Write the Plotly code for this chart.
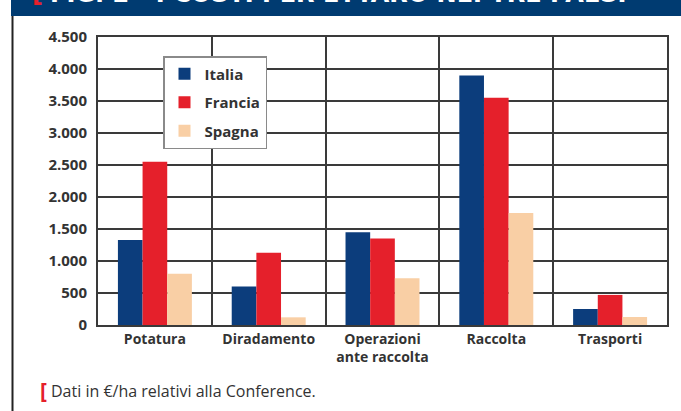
import plotly.graph_objects as go

categories = ["Potatura", "Diradamento", "Operazioni<br>ante raccolta", "Raccolta", "Trasporti"]
italia = [1330, 600, 1450, 3900, 250]
francia = [2550, 1130, 1350, 3550, 470]
spagna = [800, 120, 730, 1750, 125]
series_names = ["Italia", "Francia", "Spagna"]
colors = ["#0c3d7c", "#e5202b", "#f9cfa5"]

W, H = 681, 411
L, R, T, B = 98, 14, 37, 86
pw, ph = W - L - R, H - T - B

def px(x):
    return (x - L) / pw

def py(y):
    return (H - B - y) / ph

fig = go.Figure()
for i, (name, vals) in enumerate(zip(series_names, [italia, francia, spagna])):
    fig.add_trace(go.Bar(
        x=categories, y=vals, name=name, marker_color=colors[i],
        marker_line_width=0, legendgroup=name,
    ))

font_main = "Open Sans, DejaVu Sans, sans-serif"

fig.update_layout(
    width=W, height=H,
    margin=dict(l=L, r=R, t=T, b=B, pad=0),
    paper_bgcolor="white", plot_bgcolor="white",
    barmode="group", bargap=0.35, bargroupgap=0,
    separators=",.",
    showlegend=True,
    legend=dict(
        x=px(163), y=py(56), xanchor="left", yanchor="top",
        bgcolor="white", bordercolor="#8a8a8a", borderwidth=1.5,
        font=dict(family=font_main, size=15, color="#333333", weight="bold"),
        tracegroupgap=6, traceorder="grouped",
    ),
    xaxis=dict(
        type="category", tickson="boundaries", showgrid=True,
        gridcolor="#3a3a3a", gridwidth=1.5, ticks="",
        showline=True, mirror=True, linecolor="#3a3a3a", linewidth=2,
        tickfont=dict(family=font_main, size=14, color="#333333", weight="bold"),
    ),
    yaxis=dict(
        range=[0, 4500], dtick=500, tickformat=",d",
        showgrid=True, gridcolor="#3a3a3a", gridwidth=1.5,
        showline=True, mirror=True, linecolor="#3a3a3a", linewidth=2,
        ticks="", ticklen=0, zeroline=False, ticklabelstandoff=6,
        tickfont=dict(family=font_main, size=15, color="#333333", weight="bold"),
    ),
    shapes=[
        dict(type="rect", xref="paper", yref="paper", x0=px(11), x1=px(W + 2),
             y0=py(16), y1=py(-2), fillcolor="#003b71", line_width=0, layer="above"),
        dict(type="line", xref="paper", yref="paper", x0=px(12.5), x1=px(12.5),
             y0=py(16), y1=py(H + 2), line=dict(color="#222222", width=2)),
    ],
    annotations=[
        dict(xref="paper", yref="paper", x=px(30), y=py(10), xanchor="left", yanchor="bottom",
             text="[", showarrow=False,
             font=dict(family="DejaVu Sans", size=24, color="#e5202b", weight="bold")),
        dict(xref="paper", yref="paper", x=px(48), y=py(10), xanchor="left", yanchor="bottom",
             text="FIG. 2 - I COSTI PER ETTARO NEI TRE PAESI", showarrow=False,
             font=dict(family="DejaVu Sans", size=24, color="white", weight="bold")),
        dict(xref="paper", yref="paper", x=px(38), y=py(390), xanchor="left", yanchor="middle",
             text="[", showarrow=False,
             font=dict(family=font_main, size=21, color="#e5202b", weight="bold")),
        dict(xref="paper", yref="paper", x=px(49), y=py(391), xanchor="left", yanchor="middle",
             text="Dati in €/ha relativi alla Conference.", showarrow=False,
             font=dict(family=font_main, size=16, color="#333333")),
    ],
)

fig.write_html("out.html", config={"displayModeBar": False},
               post_script="document.body.style.margin='0px';")
